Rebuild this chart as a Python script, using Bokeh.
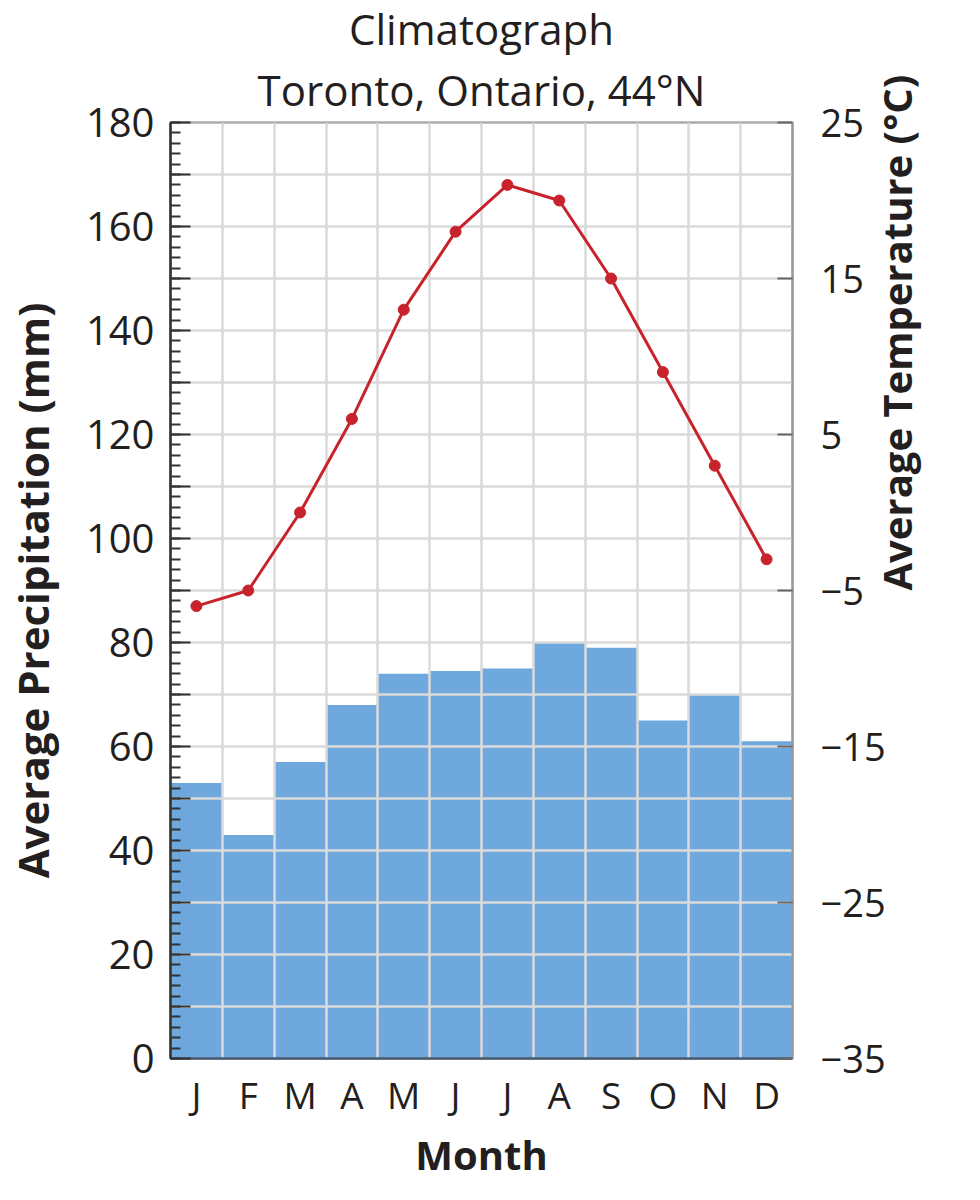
import math
from bokeh.plotting import figure
from bokeh.models import Range1d, LinearAxis, FixedTicker, SingleIntervalTicker, Title
from bokeh.embed import file_html
from bokeh.resources import INLINE

# ---- data ----
months = ["J", "F", "M", "A", "M", "J", "J", "A", "S", "O", "N", "D"]
precip_mm = [53, 43, 57, 68, 74, 74.5, 75, 80, 79, 65, 70, 61]
temp_c = [-6, -5, 0, 6, 13, 18, 21, 20, 15, 9, 3, -3]
precip_ticks = list(range(0, 190, 10))
precip_labelled = list(range(0, 200, 20))
temp_ticks = [-35, -25, -15, -5, 5, 15, 25]
title_lines = ["Climatograph", "Toronto, Ontario, 44°N"]

month_pos = list(range(1, len(months) + 1))
month_bounds = [m + 0.5 for m in month_pos[:-1]]

FONT = "Open Sans"
TXT = "#231f20"

p = figure(width=964, height=1184,
           x_range=Range1d(0.5, len(months) + 0.5), y_range=Range1d(0, 180),
           output_backend="svg", toolbar_location=None,
           min_border_left=165, min_border_right=172,
           min_border_top=122, min_border_bottom=126)
p.extra_y_ranges = {"temp": Range1d(-35, 25)}

# titles (first added is closest to the frame)
sub = Title(text=title_lines[1], align="center", text_font=FONT,
            text_font_size="42px", text_font_style="normal", text_color=TXT,
            standoff=10)
p.add_layout(sub, "above")
p.title.text = title_lines[0]
p.title.align = "center"
p.title.text_font = FONT
p.title.text_font_size = "42px"
p.title.text_font_style = "normal"
p.title.text_color = TXT
p.title.standoff = -6

p.outline_line_color = "#aaaaaa"
p.outline_line_width = 2.5

# bars (lowest level so the grid shows on top)
p.vbar(x=month_pos, top=precip_mm, width=1.0, bottom=0,
       fill_color="#6fa8dc", line_color=None, level="image")

# temperature line
p.line(month_pos, temp_c, y_range_name="temp", line_color="#c8232c", line_width=3)
p.scatter(month_pos, temp_c, y_range_name="temp", size=11,
          fill_color="#c8232c", line_color="#c8232c")

# left axis
ya = p.yaxis[0]
ya.ticker = SingleIntervalTicker(interval=10, num_minor_ticks=5)
ya.major_label_overrides = {v: "" for v in precip_ticks if v not in precip_labelled}
ya.axis_label = "Average Precipitation (mm)"
ya.axis_label_text_font = FONT
ya.axis_label_text_font_size = "42px"
ya.axis_label_text_font_style = "bold"
ya.axis_label_text_color = TXT
ya.axis_label_standoff = 22
ya.major_label_text_font = FONT
ya.major_label_text_font_size = "40px"
ya.major_label_text_color = TXT
ya.major_label_standoff = 16
ya.major_tick_in = 20
ya.major_tick_out = 0
ya.minor_tick_in = 10
ya.minor_tick_out = 0
ya.major_tick_line_color = "#333333"
ya.minor_tick_line_color = "#333333"
ya.major_tick_line_width = 2
ya.minor_tick_line_width = 2
ya.axis_line_color = "#333333"
ya.axis_line_width = 2.5

# bottom axis
xa = p.xaxis[0]
xa.ticker = FixedTicker(ticks=month_pos)
xa.major_label_overrides = {m: lab for m, lab in zip(month_pos, months)}
xa.axis_label = "Month"
xa.axis_label_text_font = FONT
xa.axis_label_text_font_size = "40px"
xa.axis_label_text_font_style = "bold"
xa.axis_label_text_color = TXT
xa.axis_label_standoff = 4
xa.major_label_text_font = FONT
xa.major_label_text_font_size = "37px"
xa.major_label_text_color = TXT
xa.major_label_standoff = 4
xa.major_tick_line_color = None
xa.minor_tick_line_color = None
xa.axis_line_color = "#4a5a70"
xa.axis_line_width = 2.5

# right axis
ra = LinearAxis(y_range_name="temp", ticker=FixedTicker(ticks=temp_ticks),
                axis_label="Average Temperature (°C)")
ra.axis_label_text_font = FONT
ra.axis_label_text_font_size = "40px"
ra.axis_label_text_font_style = "bold"
ra.axis_label_text_color = TXT
ra.axis_label_standoff = 8
ra.axis_label_orientation = math.pi / 2
ra.major_label_text_font = FONT
ra.major_label_text_font_size = "38px"
ra.major_label_text_color = TXT
ra.major_label_standoff = 28
ra.major_tick_in = 15
ra.major_tick_out = 0
ra.minor_tick_line_color = None
ra.major_tick_line_color = "#666666"
ra.major_tick_line_width = 2
ra.axis_line_color = "#999999"
ra.axis_line_width = 2
p.add_layout(ra, "right")

# grids
p.ygrid.grid_line_color = "#dadada"
p.ygrid.grid_line_width = 2.5
p.ygrid.level = "underlay"
p.xgrid.ticker = FixedTicker(ticks=month_bounds)
p.xgrid.grid_line_color = "#dadada"
p.xgrid.grid_line_width = 2.5
p.xgrid.level = "underlay"

open("out.html", "w").write(file_html(p, INLINE))
